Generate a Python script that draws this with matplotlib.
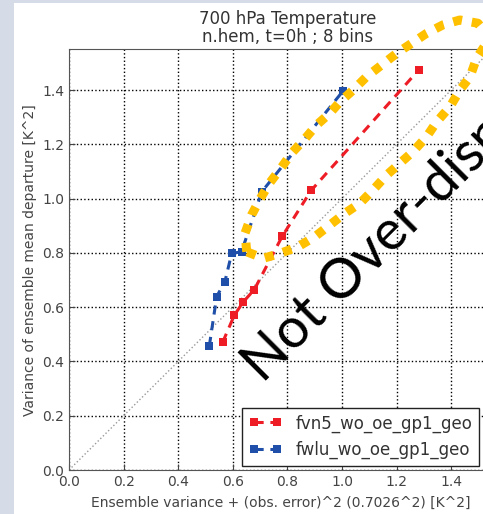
import matplotlib
matplotlib.use("Agg")
import matplotlib.pyplot as plt
from matplotlib.patches import Rectangle

# ensemble spread vs error data
fvn5_x = [0.563, 0.606, 0.639, 0.679, 0.781, 0.887, 1.281]
fvn5_y = [0.471, 0.571, 0.620, 0.665, 0.861, 1.030, 1.474]
fwlu_x = [0.514, 0.541, 0.571, 0.596, 0.632, 0.706, 1.005]
fwlu_y = [0.457, 0.639, 0.694, 0.798, 0.804, 1.025, 1.398]

ticks = [0.0, 0.2, 0.4, 0.6, 0.8, 1.0, 1.2, 1.4, 1.6]

# hand drawn loop round the two curves (annotation)
loop_x = [0.651, 0.645, 0.669, 0.700, 0.736, 0.777, 0.816, 0.864, 0.907, 0.956,
          0.993, 1.041, 1.090, 1.145, 1.200, 1.255, 1.310, 1.370, 1.432, 1.498,
          1.542, 1.493, 1.469, 1.432, 1.396, 1.347, 1.310, 1.260, 1.212, 1.164,
          1.114, 1.066, 1.011, 0.956, 0.901, 0.840, 0.773, 0.712, 0.651]
loop_y = [0.804, 0.873, 0.940, 0.999, 1.059, 1.113, 1.168, 1.220, 1.271, 1.315,
          1.357, 1.400, 1.449, 1.492, 1.535, 1.572, 1.609, 1.640, 1.658, 1.646,
          1.592, 1.517, 1.449, 1.400, 1.339, 1.283, 1.228, 1.173, 1.130, 1.087,
          1.032, 0.983, 0.946, 0.903, 0.860, 0.823, 0.798, 0.780, 0.804]

fig = plt.figure(figsize=(4.83, 5.14), dpi=100)
fig.patch.set_facecolor("white")

# slide background strip on the left and top
fig.patches.append(Rectangle((0, 0), 14 / 483, 1, transform=fig.transFigure,
                             facecolor="#d5dce8", edgecolor="none", zorder=0))
fig.patches.append(Rectangle((0, 1 - 3 / 514), 1, 3 / 514, transform=fig.transFigure,
                             facecolor="#d5dce8", edgecolor="none", zorder=0))

ax = fig.add_axes([69 / 483, 44 / 514, 436.8 / 483, 420.7 / 514])

ax.plot([0, 1.6], [0, 1.6], linestyle=":", color="#999999", linewidth=1)
ax.plot(fvn5_x, fvn5_y, color="#ee1c25", linestyle="--", linewidth=2.2,
        marker="s", markersize=5.5, markeredgewidth=0, dashes=(3, 2.2),
        label="fvn5_wo_oe_gp1_geo")
ax.plot(fwlu_x, fwlu_y, color="#1f4fa8", linestyle="--", linewidth=2.2,
        marker="s", markersize=5.5, markeredgewidth=0, dashes=(3, 2.2),
        label="fwlu_wo_oe_gp1_geo")

ax.set_xlim(0, 1.6)
ax.set_ylim(0, 1.55)
ax.set_xticks(ticks)
ax.set_yticks(ticks[:-1])
ax.set_xticklabels([f"{t:.1f}" for t in ticks])
ax.set_yticklabels([f"{t:.1f}" for t in ticks[:-1]])
ax.tick_params(direction="in", labelsize=10, colors="#444444", length=4)
for s in ax.spines.values():
    s.set_color("#555555")
ax.grid(True, color="black", linestyle=":", linewidth=1)

ax.set_xlabel("Ensemble variance + (obs. error)^2 (0.7026^2) [K^2]", fontsize=10,
              color="#444444")
ax.xaxis.set_label_coords(0.4854, -0.062)
ax.set_ylabel("Variance of ensemble mean departure [K^2]", fontsize=10, color="#444444")
ax.set_title("700 hPa Temperature\nn.hem, t=0h ; 8 bins", fontsize=12, color="#333333",
             linespacing=1.0, pad=5)

leg = ax.legend(loc="lower left", bbox_to_anchor=(0.396, 0.01), fontsize=12,
                numpoints=2, handlelength=2, fancybox=False, framealpha=1,
                borderaxespad=0)
leg.get_frame().set_edgecolor("#222222")
for t in leg.get_texts():
    t.set_color("#333333")

# yellow loop and big label drawn over the axes
ax.plot(loop_x, loop_y, color="#ffc000", linewidth=6.5, linestyle=(0, (1.0, 1.1)),
        clip_on=False, zorder=5)
ax.text(0.712, 0.318, "Not Over-dispersive", fontsize=40, rotation=45,
        rotation_mode="anchor", ha="left", va="baseline", color="black",
        family="Lato", clip_on=False, zorder=6)

fig.savefig("out.png", dpi=100)
